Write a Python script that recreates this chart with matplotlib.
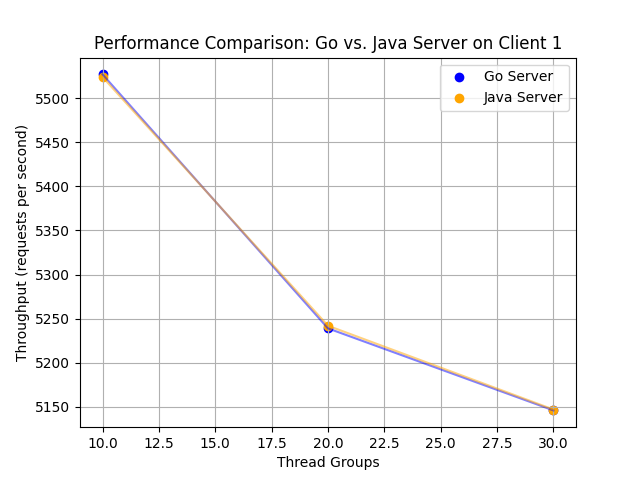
import matplotlib
matplotlib.use("Agg")
import matplotlib.pyplot as plt

threads = [10, 20, 30]
go_tp = [5527, 5239, 5146]
java_tp = [5524, 5242, 5147]

fig, ax = plt.subplots(figsize=(6.4, 4.8), dpi=100)
ax.scatter(threads, go_tp, color='blue', label='Go Server')
ax.scatter(threads, java_tp, color='orange', label='Java Server')
ax.plot(threads, go_tp, color='blue', alpha=0.5)
ax.plot(threads, java_tp, color='orange', alpha=0.5)
ax.set_xlabel('Thread Groups')
ax.set_ylabel('Throughput (requests per second)')
ax.set_title('Performance Comparison: Go vs. Java Server on Client 1')
ax.legend()
ax.grid(True)
fig.savefig('out.png')
